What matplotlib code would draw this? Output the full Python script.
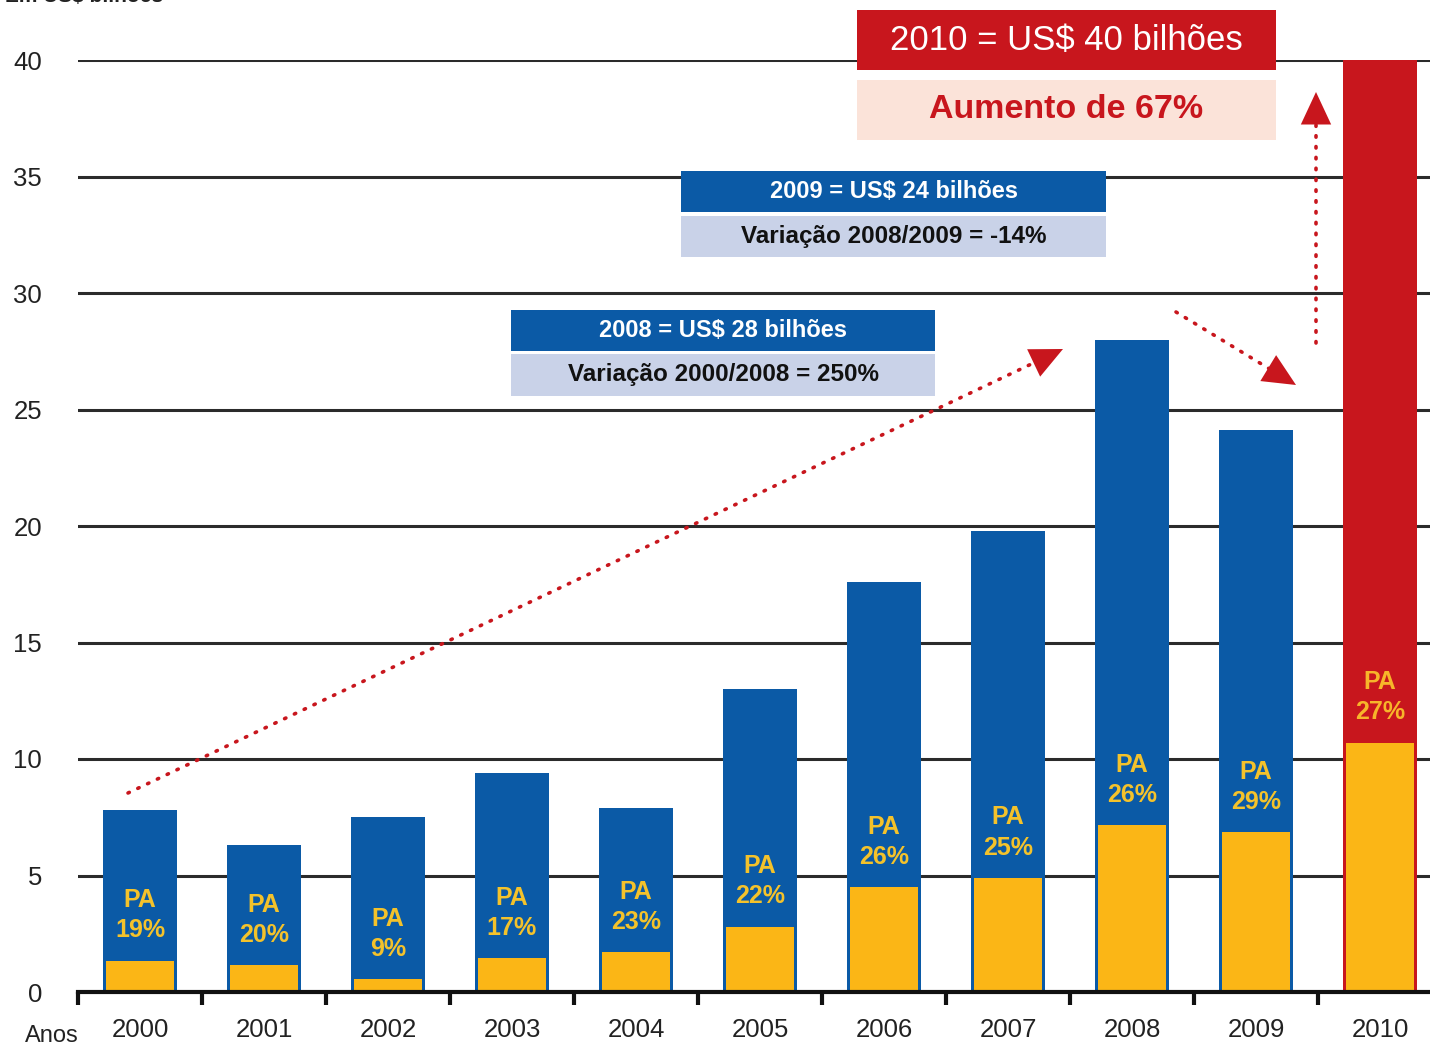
import math
import matplotlib
matplotlib.use('Agg')
import matplotlib.pyplot as plt
from matplotlib.patches import Rectangle

plt.rcParams['font.family'] = ['Liberation Sans', 'DejaVu Sans']

# ---- data ----
years = ['2000', '2001', '2002', '2003', '2004', '2005', '2006', '2007', '2008', '2009', '2010']
total = [7.8, 6.3, 7.5, 9.4, 7.9, 13.0, 17.6, 19.8, 28.0, 24.1, 40.0]
pa_value = [1.35, 1.15, 0.55, 1.45, 1.7, 2.8, 4.5, 4.9, 7.15, 6.85, 10.7]
pa_pct = ['19%', '20%', '9%', '17%', '23%', '22%', '26%', '25%', '26%', '29%', '27%']
yticks = [0, 5, 10, 15, 20, 25, 30, 35, 40]

BLUE = '#0b5aa6'
RED = '#c8161d'
YELLOW = '#fbb616'
LABEL_YEL = '#f4c22b'
PINK = '#fbe3d9'
LIGHTBLUE = '#c9d2e8'

W, H = 1430, 1043
fig = plt.figure(figsize=(W / 100, H / 100), dpi=100)
ax = fig.add_axes([78 / W, (H - 992) / H, 1 - 78 / W, (992 - 60) / H])

x = list(range(len(years)))
colors = [BLUE] * (len(years) - 1) + [RED]
ax.bar(x, total, width=0.6, color=colors, zorder=2)
ax.bar(x, pa_value, width=0.55, color=YELLOW, zorder=3)
for i in x:
    lab_col = LABEL_YEL if i < len(years) - 1 else '#f7b52a'
    c = pa_value[i] + 1.95
    ax.text(i, c + 0.65, 'PA', ha='center', va='center', fontsize=18, fontweight='bold',
            color=lab_col, zorder=4)
    ax.text(i, c - 0.65, pa_pct[i], ha='center', va='center', fontsize=18, fontweight='bold',
            color=lab_col, zorder=4)

ax.set_xlim(-0.5, (W - 78) / 124 - 0.5)
ax.set_ylim(0, 40)
for s in ['top', 'right', 'left']:
    ax.spines[s].set_visible(False)
ax.spines['bottom'].set_linewidth(3)
ax.spines['bottom'].set_color('#111111')
ax.spines['bottom'].set_zorder(5)

ax.set_xticks([i - 0.5 for i in x])
ax.set_xticklabels([''] * len(x))
ax.tick_params(axis='x', which='major', direction='out', length=9, width=3, color='#111111')
ax.set_xticks(x, minor=True)
ax.set_xticklabels(years, minor=True, fontsize=18.5, color='#222222')
ax.tick_params(axis='x', which='minor', length=0, pad=19)

ax.set_yticks(yticks)
ax.set_yticklabels([str(v) for v in yticks], fontsize=18.5, color='#222222')
ax.tick_params(axis='y', length=0, pad=26)
ax.grid(axis='y', color='#2b2b2b', linewidth=2.2)
ax.set_axisbelow(True)


def d(px, py):
    return ((px - 78) / 124 - 0.5, (992 - py) / ((992 - 60) / 40))


def dotted_arrow(p0, tip, head_len=22):
    dx, dy = tip[0] - p0[0], tip[1] - p0[1]
    L = math.hypot(dx, dy)
    ux, uy = dx / L, dy / L
    base = (tip[0] - ux * head_len, tip[1] - uy * head_len)
    back = (tip[0] - ux * 70, tip[1] - uy * 70)
    a, b = d(*p0), d(*base)
    ax.plot([a[0], b[0]], [a[1], b[1]], color=RED, lw=2.6, linestyle=(0, (0.4, 2.6)),
            dash_capstyle='round', zorder=6, clip_on=False)
    ax.annotate('', xy=d(*tip), xytext=d(*back),
                arrowprops=dict(arrowstyle='-|>,head_length=0.9,head_width=0.42', color=RED,
                                lw=0, mutation_scale=26, shrinkA=0, shrinkB=0),
                zorder=6, annotation_clip=False)


dotted_arrow((128, 793), (1063, 349))
dotted_arrow((1176, 312), (1296, 385))
dotted_arrow((1316, 343), (1316, 92))


def fbox(x0, y0, x1, y1, fc, text, tc, size, weight):
    fig.patches.append(Rectangle((x0 / W, 1 - y1 / H), (x1 - x0) / W, (y1 - y0) / H,
                                 transform=fig.transFigure, facecolor=fc, edgecolor='none',
                                 zorder=7))
    fig.text((x0 + x1) / 2 / W, 1 - (y0 + y1) / 2 / H, text, ha='center', va='center',
             fontsize=size, fontweight=weight, color=tc, zorder=8)


fbox(857, 10, 1276, 70, RED, '2010 = US$ 40 bilhões', 'white', 25, 'normal')
fbox(857, 80, 1276, 140, PINK, 'Aumento de 67%', RED, 24.5, 'bold')
fbox(681, 171, 1106, 212, BLUE, '2009 = US$ 24 bilhões', 'white', 17, 'bold')
fbox(681, 216, 1106, 257, LIGHTBLUE, 'Variação 2008/2009 = -14%', '#111111', 17.5, 'bold')
fbox(511, 310, 935, 351, BLUE, '2008 = US$ 28 bilhões', 'white', 17, 'bold')
fbox(511, 354, 935, 396, LIGHTBLUE, 'Variação 2000/2008 = 250%', '#111111', 17.5, 'bold')

fig.text(5 / W, 1 - 6 / H, 'Em US$ bilhões', ha='left', va='bottom', fontsize=15,
         fontweight='bold', color='#222222')
fig.text(52 / W, 1 - 1025 / H, 'Anos', ha='center', va='top', fontsize=17, color='#222222')

fig.savefig('out.png', dpi=100)
